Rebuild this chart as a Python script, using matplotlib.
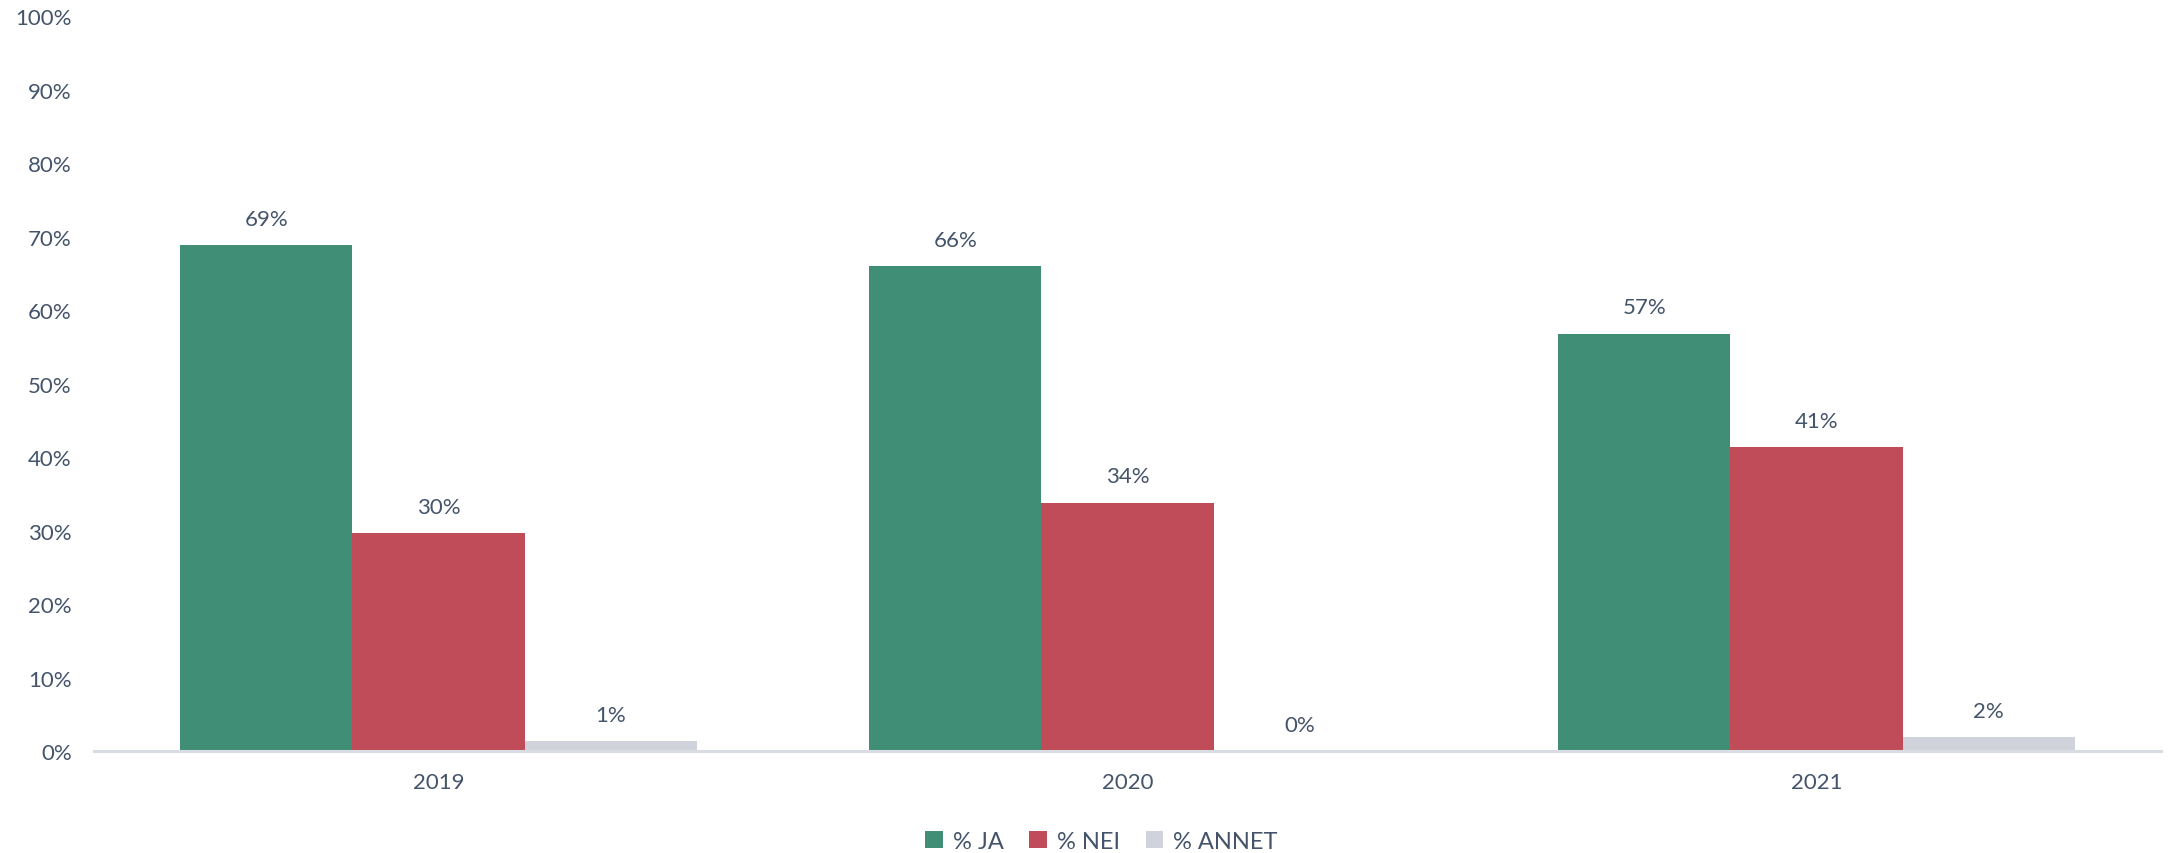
import matplotlib.pyplot as plt
import numpy as np
from matplotlib.ticker import PercentFormatter, MultipleLocator

years = ["2019", "2020", "2021"]
series_names = ["% JA", "% NEI", "% ANNET"]
ja = [0.688, 0.660, 0.568]
nei = [0.296, 0.338, 0.413]
annet = [0.013, 0.0, 0.019]
labels_ja = ["69%", "66%", "57%"]
labels_nei = ["30%", "34%", "41%"]
labels_annet = ["1%", "0%", "2%"]

colors = ["#408E75", "#C04C59", "#D0D3DB"]
text_color = "#44546A"

plt.rcParams["font.family"] = ["Lato", "DejaVu Sans"]

fig = plt.figure(figsize=(21.68, 8.54), dpi=100)
ax = fig.add_axes([0.0434, 0.1194, 0.9534, 0.8606])

x = np.arange(len(years))
width = 0.25
all_values = [ja, nei, annet]
all_labels = [labels_ja, labels_nei, labels_annet]

for i, (vals, labs) in enumerate(zip(all_values, all_labels)):
    pos = x + (i - 1) * width
    ax.bar(pos, vals, width, color=colors[i], label=series_names[i], zorder=2)
    for px, v, lab in zip(pos, vals, labs):
        ax.annotate(lab, (px, v), xytext=(0, 19), textcoords="offset points",
                    ha="center", va="center", fontsize=16, color=text_color)

ax.set_xlim(-0.5, 2.5)
ax.set_ylim(0, 1.0)
ax.yaxis.set_major_locator(MultipleLocator(0.1))
ax.yaxis.set_major_formatter(PercentFormatter(1.0, decimals=0))
ax.set_xticks(x)
ax.set_xticklabels(years)

for side in ["top", "right", "left"]:
    ax.spines[side].set_visible(False)
ax.spines["bottom"].set_color("#D9DDE3")
ax.spines["bottom"].set_linewidth(2.2)
ax.spines["bottom"].set_zorder(3)

ax.tick_params(axis="y", length=0, pad=16, labelsize=16, labelcolor=text_color)
ax.tick_params(axis="x", length=0, pad=15, labelsize=16, labelcolor=text_color)

fig.legend(loc="center", bbox_to_anchor=(0.508, 0.0135), ncol=3, frameon=False,
           fontsize=17, labelcolor=text_color, handlelength=0.75, handleheight=0.75,
           handletextpad=0.4, columnspacing=1.1)

fig.savefig("out.png", dpi=100)
